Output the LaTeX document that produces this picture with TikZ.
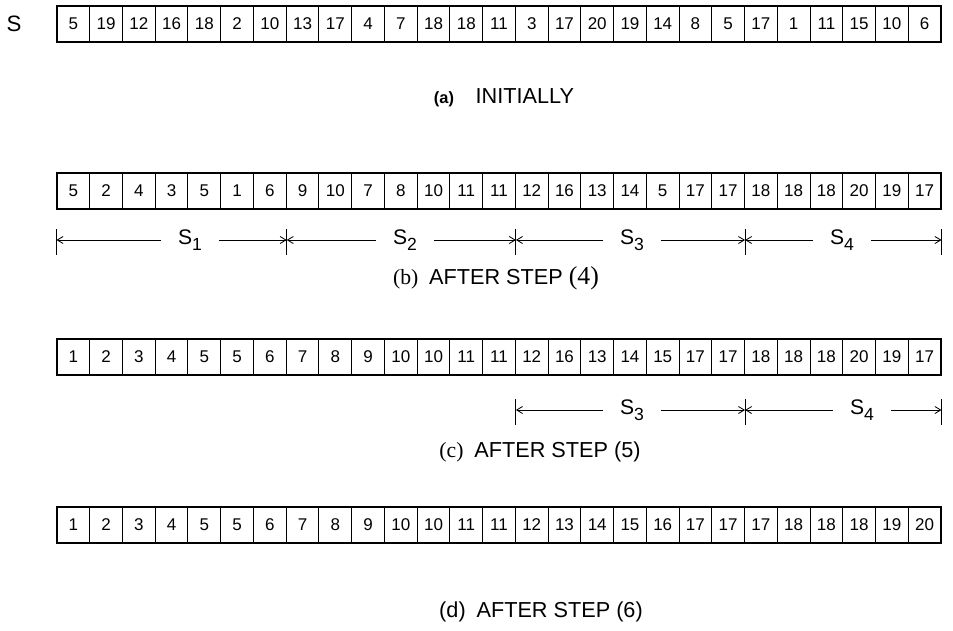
\documentclass[tikz,border=0pt]{standalone}
\usepackage{fontspec}
\setmainfont{Liberation Sans}
\newfontfamily\capserif{Liberation Serif}
\usetikzlibrary{arrows.meta}

\begin{document}
\begin{tikzpicture}[x=0.03cm, y=-0.03cm,
    cell/.style={draw, line width=0.9pt, minimum width=0.982cm, minimum height=1.05cm,
      inner sep=0pt, font=\fontsize{14.5}{16}\selectfont},
    rowframe/.style={line width=1.6pt},
    seglabel/.style={font=\fontsize{18}{20}\selectfont, inner xsep=0.5cm, inner ysep=0pt},
    segline/.style={-{Straight Barb[length=5pt,width=6pt]}, line width=0.7pt},
    tick/.style={line width=0.7pt},
    caption/.style={font=\fontsize{18.5}{22}\selectfont}]
  \useasboundingbox (0,0) rectangle (953,630);

  % (a) initially
  \node[font=\fontsize{19}{22}\selectfont] (lbls) at (14,24) {S};
  \foreach \v [count=\i] in {5,19,12,16,18,2,10,13,17,4,7,18,18,11,3,17,20,19,14,8,5,17,1,11,15,10,6} {
    \node[cell] (a\i) at ({57+(\i-0.5)*32.74},24) {\v};
  }
  \draw[rowframe] (a1.north west) rectangle (a27.south east);
  \node[caption] (capa) at (504,98) {{\bfseries\fontsize{14}{16}\selectfont (a)}\quad INITIALLY};

  % (b) after step (4)
  \foreach \v [count=\i] in {5,2,4,3,5,1,6,9,10,7,8,10,11,11,12,16,13,14,5,17,17,18,18,18,20,19,17} {
    \node[cell] (b\i) at ({57+(\i-0.5)*32.74},191) {\v};
  }
  \draw[rowframe] (b1.north west) rectangle (b27.south east);
  \coordinate (yb) at (0,240);
  \coordinate (tb0) at (b1.west |- yb);
  \coordinate (tb1) at (b7.east |- yb);
  \coordinate (tb2) at (b14.east |- yb);
  \coordinate (tb3) at (b21.east |- yb);
  \coordinate (tb4) at (b27.east |- yb);
  \foreach \t in {tb0,tb1,tb2,tb3,tb4} {
    \draw[tick] (\t) ++(0,-11) -- ++(0,26);
  }
  \node[seglabel] (sb1) at (190,240) {S\raisebox{-0.55ex}{\fontsize{15}{16}\selectfont 1}};
  \node[seglabel] (sb2) at (405,240) {S\raisebox{-0.55ex}{\fontsize{15}{16}\selectfont 2}};
  \node[seglabel] (sb3) at (632,240) {S\raisebox{-0.55ex}{\fontsize{15}{16}\selectfont 3}};
  \node[seglabel] (sb4) at (842,240) {S\raisebox{-0.55ex}{\fontsize{15}{16}\selectfont 4}};
  \draw[segline] (sb1.west) -- (tb0);
  \draw[segline] (sb1.east) -- (tb1);
  \draw[segline] (sb2.west) -- (tb1);
  \draw[segline] (sb2.east) -- (tb2);
  \draw[segline] (sb3.west) -- (tb2);
  \draw[segline] (sb3.east) -- (tb3);
  \draw[segline] (sb4.west) -- (tb3);
  \draw[segline] (sb4.east) -- (tb4);
  \node[caption] (capb) at (496,278)
    {{\capserif (b)}\enspace AFTER STEP {\capserif\fontsize{22}{24}\selectfont (4)}};

  % (c) after step (5)
  \foreach \v [count=\i] in {1,2,3,4,5,5,6,7,8,9,10,10,11,11,12,16,13,14,15,17,17,18,18,18,20,19,17} {
    \node[cell] (c\i) at ({57+(\i-0.5)*32.74},357) {\v};
  }
  \draw[rowframe] (c1.north west) rectangle (c27.south east);
  \coordinate (yc) at (0,410);
  \coordinate (tc2) at (c14.east |- yc);
  \coordinate (tc3) at (c21.east |- yc);
  \coordinate (tc4) at (c27.east |- yc);
  \foreach \t in {tc2,tc3,tc4} {
    \draw[tick] (\t) ++(0,-11) -- ++(0,26);
  }
  \node[seglabel] (sc3) at (632,410) {S\raisebox{-0.55ex}{\fontsize{15}{16}\selectfont 3}};
  \node[seglabel] (sc4) at (862,410) {S\raisebox{-0.55ex}{\fontsize{15}{16}\selectfont 4}};
  \draw[segline] (sc3.west) -- (tc2);
  \draw[segline] (sc3.east) -- (tc3);
  \draw[segline] (sc4.west) -- (tc3);
  \draw[segline] (sc4.east) -- (tc4);
  \node[caption] (capc) at (540,452) {{\capserif (c)}\enspace AFTER STEP (5)};

  % (d) after step (6)
  \foreach \v [count=\i] in {1,2,3,4,5,5,6,7,8,9,10,10,11,11,12,13,14,15,16,17,17,17,18,18,18,19,20} {
    \node[cell] (d\i) at ({57+(\i-0.5)*32.74},525) {\v};
  }
  \draw[rowframe] (d1.north west) rectangle (d27.south east);
  \node[caption] (capd) at (541,612) {(d)\enspace AFTER STEP (6)};
\end{tikzpicture}
\end{document}
